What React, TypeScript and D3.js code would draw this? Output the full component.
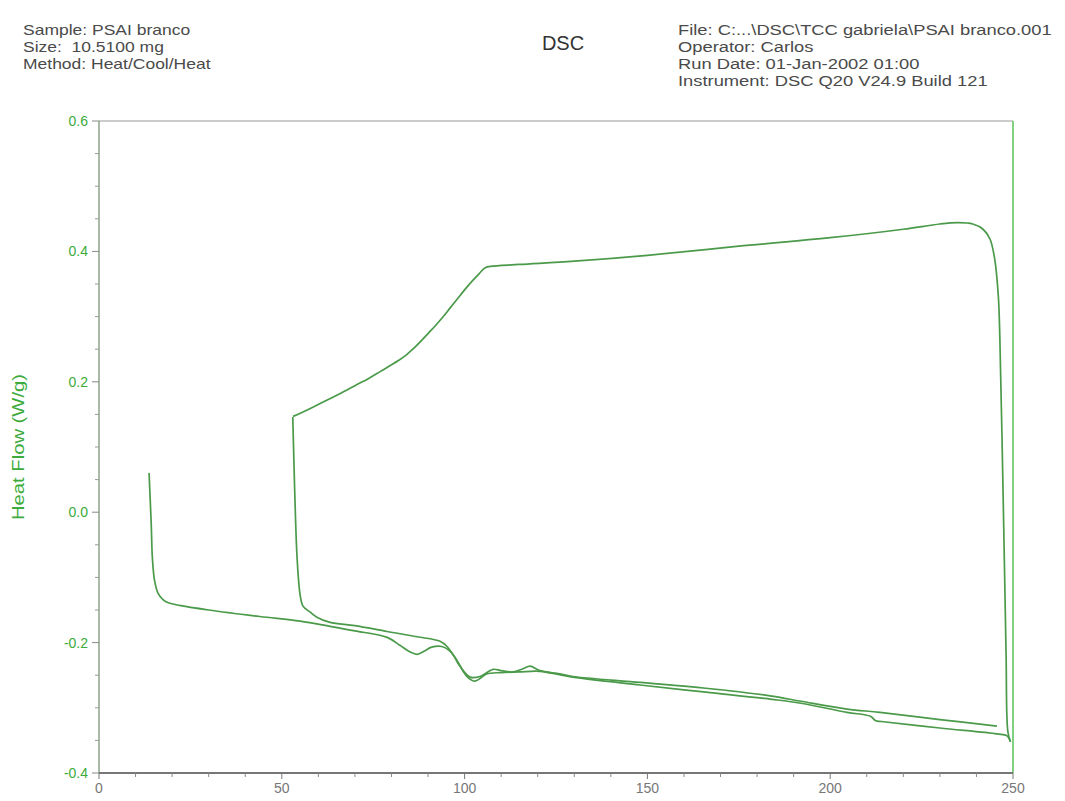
import React from "react";
import * as d3 from "d3";

type Pt = [number, number];

// temperature (°C), heat flow (W/g)
const firstHeat: Pt[] = [
  [13.7, 0.06], [14.0, 0.02], [14.3, -0.02], [14.6, -0.07], [15.2, -0.105],
  [16.2, -0.125], [17.5, -0.134], [19, -0.139], [22, -0.143], [30, -0.15],
  [44, -0.16], [55, -0.167], [63.2, -0.175], [70, -0.182], [78.8, -0.192],
  [82.3, -0.204], [85, -0.214], [87, -0.218], [89, -0.213], [91, -0.207],
  [93.8, -0.206], [96, -0.213], [98, -0.228], [99.6, -0.244], [101, -0.254],
  [102.8, -0.259], [104.5, -0.254], [106, -0.248], [110, -0.246], [115, -0.245],
  [120.6, -0.244], [129.6, -0.253], [148, -0.265], [166, -0.276], [184, -0.287],
  [192, -0.293], [204.6, -0.307], [211, -0.313], [212.5, -0.32], [214, -0.321],
  [230, -0.331], [245.6, -0.34], [248.4, -0.343], [249.3, -0.352],
];

const cooling: Pt[] = [
  [249.3, -0.352], [248.6, -0.337], [248.1, -0.216], [247.3, 0.026], [246.4, 0.268],
  [246.0, 0.33], [245.0, 0.388], [243.7, 0.419], [241.8, 0.434], [239, 0.442],
  [235, 0.444], [230, 0.442], [220, 0.434], [200, 0.421], [175, 0.408],
  [150, 0.394], [130, 0.385], [115, 0.38], [107, 0.377], [105.6, 0.375],
  [104, 0.366], [102, 0.354], [100, 0.341], [98, 0.327], [96, 0.313],
  [94, 0.299], [92, 0.286], [90, 0.274], [88, 0.262], [86, 0.251],
  [84, 0.241], [82, 0.233], [80, 0.226], [77, 0.216], [74, 0.206],
  [70, 0.194], [66, 0.182], [62, 0.171], [58.5, 0.161], [55.5, 0.153],
  [53.1, 0.147],
];

const secondHeat: Pt[] = [
  [53.0, 0.146], [53.3, 0.081], [53.7, 0.0], [54.2, -0.072], [55, -0.126],
  [55.8, -0.144], [57.7, -0.153], [59.6, -0.161], [63.2, -0.169], [70, -0.174],
  [78.8, -0.183], [87, -0.191], [93.3, -0.198], [95.2, -0.206], [97, -0.22],
  [98.7, -0.236], [101.5, -0.253], [104.2, -0.252], [107.8, -0.241], [110, -0.243],
  [113.2, -0.245], [116, -0.24], [117.9, -0.236], [120.6, -0.243], [126, -0.248],
  [129.6, -0.252], [148, -0.261], [166, -0.27], [184, -0.282], [192, -0.29],
  [204.6, -0.302], [213.6, -0.307], [230, -0.318], [245.6, -0.328],
];

const xTicks = [0, 50, 100, 150, 200, 250];
const yTicks = [-0.4, -0.2, 0.0, 0.2, 0.4, 0.6];

const headerLeft = ["Sample: PSAI branco", "Size:  10.5100 mg", "Method: Heat/Cool/Heat"];
const headerRight = [
  "File: C:...\\DSC\\TCC gabriela\\PSAI branco.001",
  "Operator: Carlos",
  "Run Date: 01-Jan-2002 01:00",
  "Instrument: DSC Q20 V24.9 Build 121",
];

const W = 1065;
const H = 801;
const plot = { left: 99, right: 1013, top: 121, bottom: 773 };
const font = "'Liberation Sans', Arial, sans-serif";
const lineColor = "#4a9a4a";
const green = "#3cab3c";

export default function App() {
  const x = d3.scaleLinear().domain([0, 250]).range([plot.left, plot.right]);
  const y = d3.scaleLinear().domain([-0.4, 0.6]).range([plot.bottom, plot.top]);

  const line = d3
    .line<Pt>()
    .x((d) => x(d[0]))
    .y((d) => y(d[1]))
    .curve(d3.curveCatmullRom.alpha(0.5));

  const xMinor = d3.range(0, 251, 10).filter((v) => v % 50 !== 0);
  const yMinor = d3.range(-8, 13).map((i) => i * 0.05).filter((_, i) => i % 4 !== 0);

  return (
    <svg
      width={W}
      height={H}
      style={{ position: "absolute", left: 0, top: 0, background: "#fff" }}
      fontFamily={font}
    >
      {/* header, the source text is a little stretched sideways */}
      <g transform="translate(23,0) scale(1.25,1)">
        {headerLeft.map((t, i) => (
          <text key={t} x={0} y={35 + i * 17} fontSize={14} fill="#4a4a4a" style={{ whiteSpace: "pre" }}>
            {t}
          </text>
        ))}
      </g>
      <g transform="translate(678,0) scale(1.31,1)">
        {headerRight.map((t, i) => (
          <text key={t} x={0} y={35 + i * 17} fontSize={14} fill="#4a4a4a">
            {t}
          </text>
        ))}
      </g>
      <text x={563} y={50} fontSize={20} textAnchor="middle" fill="#333">DSC</text>

      {/* frame */}
      <line x1={plot.left} x2={plot.right} y1={plot.top} y2={plot.top} stroke="#999" strokeWidth={1.2} />
      <line x1={plot.right} x2={plot.right} y1={plot.top} y2={plot.bottom} stroke="#7fd07f" strokeWidth={2} />
      <line x1={plot.left} x2={plot.left} y1={plot.top} y2={plot.bottom} stroke="#8aa58a" strokeWidth={1.5} />
      <line x1={plot.left} x2={plot.right} y1={plot.bottom} y2={plot.bottom} stroke="#777" strokeWidth={2} />

      {/* y axis ticks */}
      {yTicks.map((v) => (
        <g key={v}>
          <line x1={plot.left - 7} x2={plot.left} y1={y(v)} y2={y(v)} stroke="#888" />
          <text x={plot.left - 11} y={y(v) + 5} fontSize={14} textAnchor="end" fill={green}>
            {v.toFixed(1)}
          </text>
        </g>
      ))}
      {yMinor.map((v) => (
        <line key={v} x1={plot.left - 4} x2={plot.left} y1={y(v)} y2={y(v)} stroke="#999" />
      ))}

      {/* x axis ticks */}
      {xTicks.map((v) => (
        <g key={v}>
          <line x1={x(v)} x2={x(v)} y1={plot.bottom} y2={plot.bottom + 6} stroke="#777" />
          <text x={x(v)} y={plot.bottom + 20} fontSize={14} textAnchor="middle" fill="#777">
            {v}
          </text>
        </g>
      ))}
      {xMinor.map((v) => (
        <line key={v} x1={x(v)} x2={x(v)} y1={plot.bottom} y2={plot.bottom + 4} stroke="#888" />
      ))}

      <text
        transform={`translate(24,${(plot.top + plot.bottom) / 2}) rotate(-90)`}
        fontSize={16}
        textAnchor="middle"
        fill={green}
        textLength={146}
        lengthAdjust="spacingAndGlyphs"
      >
        Heat Flow (W/g)
      </text>

      {/* curves */}
      {[firstHeat, cooling, secondHeat].map((s, i) => (
        <path key={i} d={line(s) ?? ""} fill="none" stroke={lineColor} strokeWidth={1.7} strokeLinejoin="round" />
      ))}
    </svg>
  );
}
